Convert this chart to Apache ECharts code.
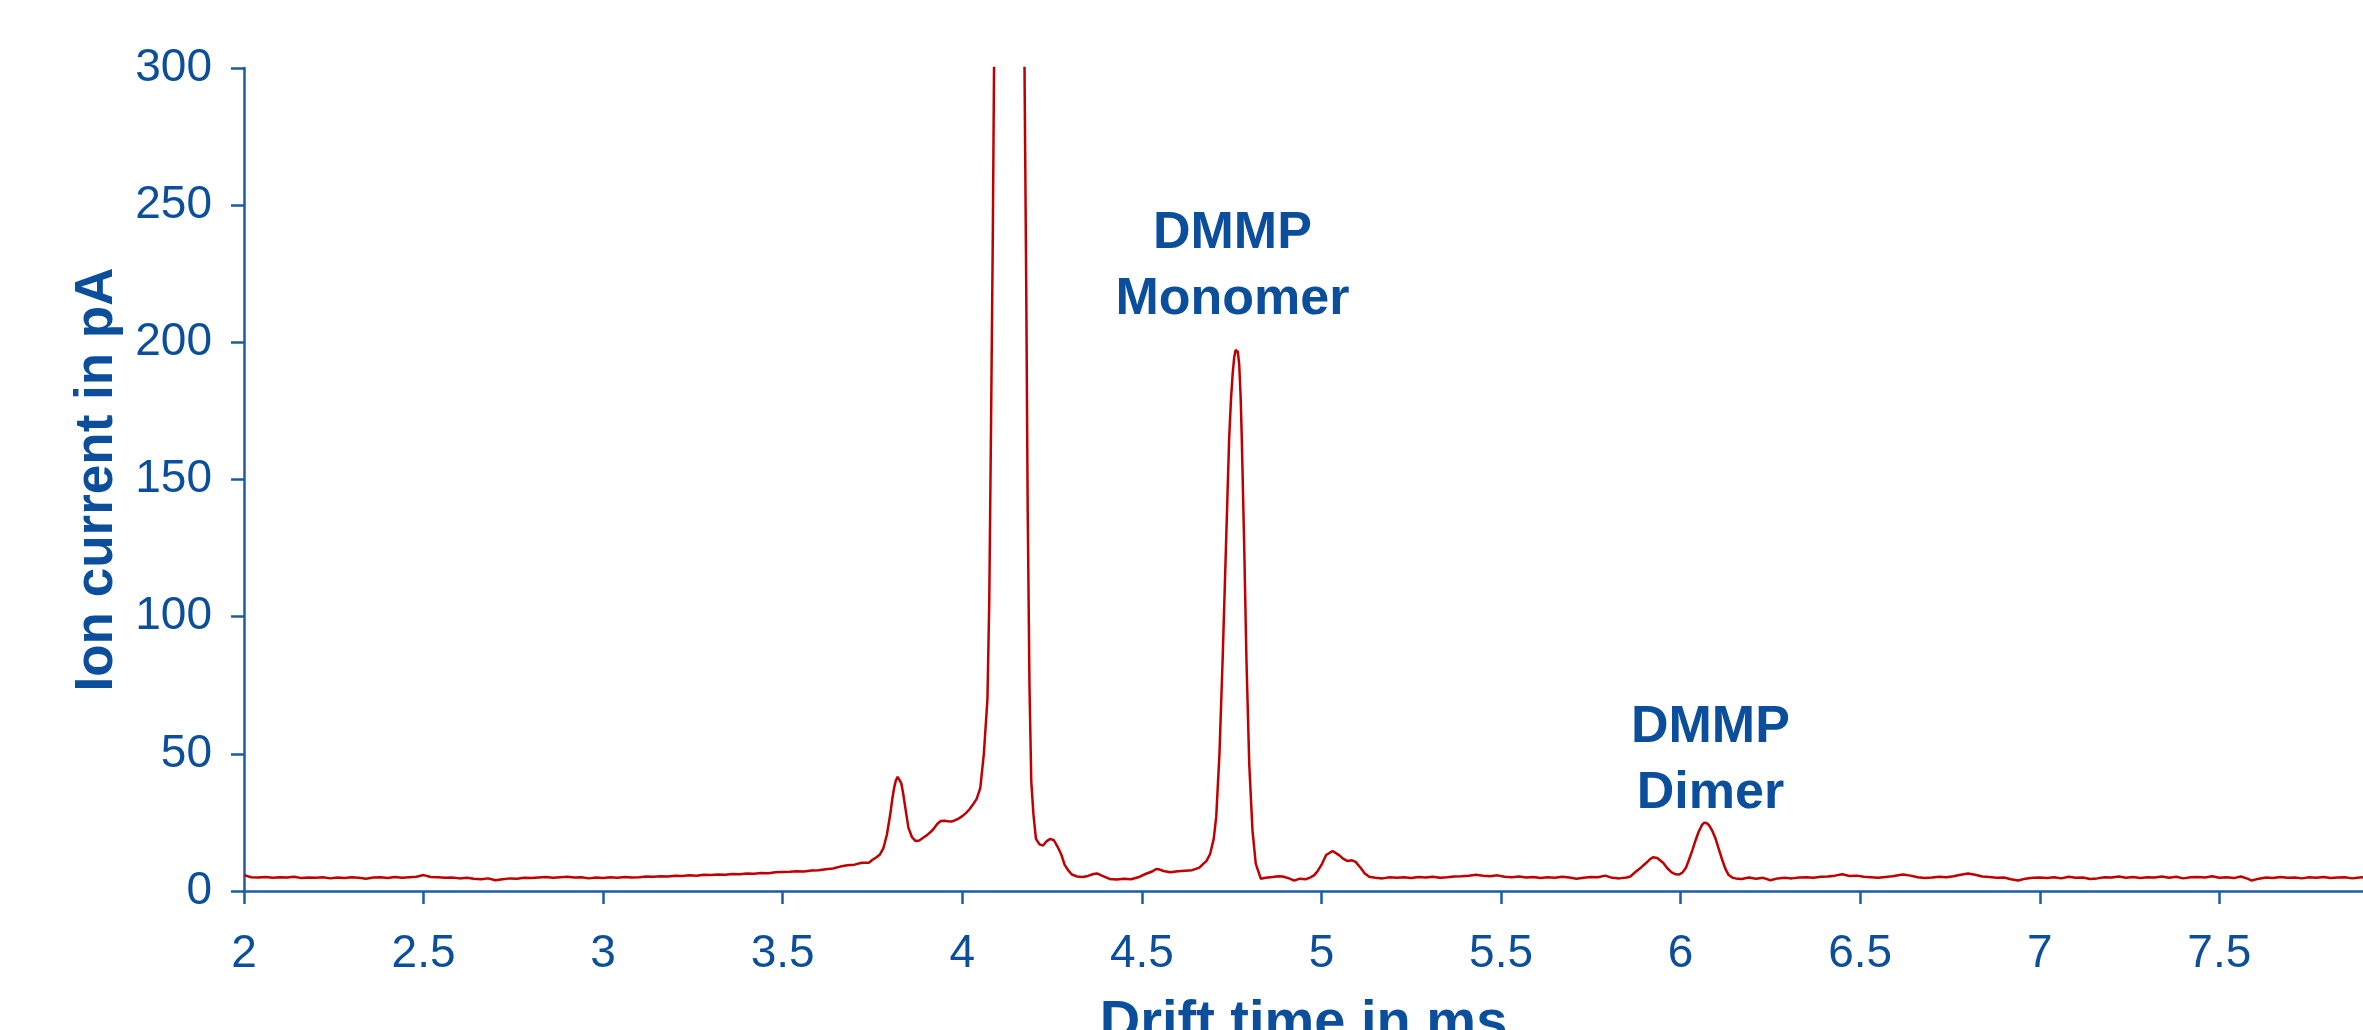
<!DOCTYPE html>
<html>
<head>
<meta charset="utf-8">
<script src="https://cdn.jsdelivr.net/npm/echarts@6/dist/echarts.min.js"></script>
<style>
html,body{margin:0;padding:0;background:#fff;overflow:hidden;}
#chart{width:2363px;height:1030px;}
</style>
</head>
<body>
<div id="chart"></div>
<script>
// ---- data: [drift time (ms), ion current (pA)] ----
const baselineLeft = [
[2.00,5.8],[2.02,5.0],[2.04,4.9],[2.06,5.1],[2.08,4.8],[2.10,5.0],[2.12,4.9],[2.14,5.2],[2.16,4.7],[2.18,4.9],
[2.20,4.8],[2.22,5.0],[2.24,4.6],[2.26,4.9],[2.28,4.7],[2.30,5.0],[2.32,4.8],[2.34,4.5],[2.36,4.9],[2.38,5.0],
[2.40,4.7],[2.42,5.1],[2.44,4.8],[2.46,5.0],[2.48,5.2],[2.50,5.8],[2.52,5.1],[2.54,5.0],[2.56,4.8],[2.58,4.9],
[2.60,4.6],[2.62,4.8],[2.64,4.5],[2.66,4.3],[2.68,4.6],[2.70,3.9],[2.72,4.3],[2.74,4.6],[2.76,4.5],[2.78,4.8],
[2.80,4.7],[2.82,4.9],[2.84,5.1],[2.86,4.8],[2.88,5.0],[2.90,5.2],[2.92,4.9],[2.94,5.0],[2.96,4.6],[2.98,4.9],
[3.00,4.7],[3.02,5.0],[3.04,4.8],[3.06,5.1],[3.08,4.9],[3.10,5.0],[3.12,5.3],[3.14,5.2],[3.16,5.4],[3.18,5.3],
[3.20,5.6],[3.22,5.5],[3.24,5.7],[3.26,5.6],[3.28,5.9],[3.30,5.8],[3.32,6.0],[3.34,5.9],[3.36,6.2],[3.38,6.1],
[3.40,6.4],[3.42,6.3],[3.44,6.6],[3.46,6.5],[3.48,6.8],[3.50,6.9],[3.52,7.0],[3.54,7.2],[3.56,7.1],[3.58,7.5],
[3.60,7.6],[3.62,7.9],[3.64,8.2],[3.66,8.9],[3.68,9.4],[3.70,9.6],[3.72,10.3],[3.74,10.3]
];
const reactantIonRegion = [
[3.75,11.4],[3.76,12.2],[3.77,13.2],[3.78,15.5],[3.79,20.5],[3.80,28.5],[3.805,33.5],[3.81,37.5],[3.815,40.3],
[3.82,41.6],[3.825,41.2],[3.83,39.3],[3.835,35.8],[3.84,31.5],[3.85,23.0],[3.86,19.6],[3.87,18.2],[3.88,18.4],
[3.89,19.3],[3.90,20.2],[3.91,21.3],[3.92,22.6],
[3.93,24.4],[3.94,25.5],[3.95,25.6],[3.96,25.4],[3.97,25.3],[3.98,25.8],[3.99,26.4],[4.00,27.3],[4.01,28.4],
[4.02,29.8],[4.03,31.6],[4.04,33.6],[4.05,37.5],[4.06,50],[4.07,70],[4.075,105],[4.08,170],[4.085,240],
[4.09,330],[4.10,700],[4.13,900],[4.16,700],[4.172,320],[4.178,220],[4.182,140],[4.187,75],[4.192,40],
[4.198,28],[4.205,19],[4.215,17],[4.225,16.6],[4.235,18.2],[4.245,19.0],[4.255,18.5],[4.265,16.2],[4.275,13.5],
[4.285,9.5],[4.295,7.5],[4.305,6.0],[4.32,5.3],[4.335,5.1],[4.35,5.5],[4.365,6.2],[4.375,6.4],[4.39,5.5],
[4.41,4.4],[4.43,4.2],[4.45,4.5],[4.47,4.3],[4.49,5.0],[4.51,6.2],[4.53,7.2],[4.54,8.0],[4.55,7.8],[4.56,7.3],
[4.58,6.8],[4.60,7.2],[4.62,7.4],[4.64,7.6],[4.66,8.5],[4.67,9.8],[4.68,11.0],[4.69,13.5],[4.70,19]
];
const monomerRegion = [
[4.707,27],[4.716,50],[4.725,85],[4.734,125],[4.743,165],[4.748,179],[4.753,189],[4.757,194.5],[4.761,197.2],
[4.764,197.6],[4.767,196.6],[4.771,192],[4.775,180],[4.778,166],
[4.785,125],[4.791,85],[4.799,46],[4.808,22],[4.817,10],[4.831,4.5],[4.845,4.8],[4.864,5.1],[4.88,5.4],
[4.892,5.3],[4.91,4.6],[4.924,3.8],[4.94,4.5],[4.957,4.3],[4.97,5.0],[4.98,5.8],[4.99,7.4],[5.00,9.5],
[5.013,13.1],[5.031,14.6],[5.05,13.0],[5.06,11.8],[5.073,10.9],[5.085,11.2],[5.095,10.6],[5.11,8.3],
[5.12,6.5],[5.133,5.2],[5.15,4.8],[5.17,4.6],[5.19,5.0],[5.21,4.8]
];
const baselineMiddle = [
[5.23,5.0],[5.25,4.7],[5.27,5.1],[5.29,4.9],[5.31,5.2],[5.33,4.8],[5.35,5.0],[5.37,5.3],[5.39,5.4],[5.41,5.6],
[5.43,5.9],[5.45,5.6],[5.47,5.4],[5.49,5.7],[5.51,5.2],[5.53,5.0],[5.55,5.3],[5.57,4.9],[5.59,5.1],[5.61,4.7],
[5.63,5.0],[5.65,4.8],[5.67,5.2],[5.69,4.9],[5.71,4.5],[5.73,4.8],[5.75,5.1],[5.77,5.0],[5.79,5.6],[5.81,4.8],
[5.83,4.6],[5.85,4.9],[5.86,5.3]
];
const dimerRegion = [
[5.875,7.0],[5.89,8.6],[5.903,10.1],[5.915,11.6],[5.923,12.3],[5.935,12.0],[5.94,11.7],[5.952,10.2],
[5.963,8.3],[5.975,6.8],[5.986,6.1],[5.995,6.0],[6.005,6.7],[6.015,8.5],[6.023,11.3],[6.033,15],[6.042,18.6],
[6.05,21.5],[6.06,24.2],[6.066,24.9],[6.072,24.8],[6.079,24.0],[6.088,22],[6.097,19.2],[6.107,15],[6.116,11.3],
[6.125,8.0],[6.134,5.8],[6.145,4.8],[6.153,4.6],[6.17,4.4],[6.19,4.9],[6.21,4.5],[6.23,4.8],[6.25,3.9],[6.27,4.6],
[6.29,4.8],[6.31,4.6]
];
const baselineRight = [
[6.33,4.9],[6.35,5.0],[6.37,4.8],[6.39,5.2],[6.41,5.3],[6.43,5.6],[6.45,6.1],[6.47,5.5],[6.49,5.6],[6.51,5.2],
[6.53,5.0],[6.55,4.8],[6.57,5.1],[6.59,5.4],[6.61,5.8],[6.62,6.0],[6.64,5.6],[6.66,5.0],[6.68,4.7],[6.70,4.9],
[6.72,5.2],[6.74,5.0],[6.76,5.4],[6.78,5.9],[6.80,6.4],[6.82,5.9],[6.84,5.3],[6.86,5.1],[6.88,4.8],[6.90,4.9],
[6.92,4.3],[6.94,3.8],[6.96,4.5],[6.98,4.8],[7.00,4.9],[7.02,4.7],[7.04,5.0],[7.06,4.6],[7.08,5.2],[7.10,4.8],
[7.12,4.9],[7.14,4.4],[7.16,4.6],[7.18,5.0],[7.20,4.9],[7.22,5.3],[7.24,4.8],[7.26,5.1],[7.28,4.7],[7.30,5.0],
[7.32,4.9],[7.34,5.3],[7.36,4.8],[7.38,5.2],[7.40,4.6],[7.42,5.0],[7.44,5.1],[7.46,4.9],[7.48,5.4],[7.50,4.8],
[7.52,5.0],[7.54,4.7],[7.56,5.3],[7.58,4.4],[7.59,3.8],[7.61,4.5],[7.63,4.9],[7.65,4.7],[7.67,5.1],[7.69,4.8],
[7.71,4.9],[7.73,4.6],[7.75,5.0],[7.77,4.8],[7.79,5.1],[7.81,4.7],[7.83,4.9],[7.85,5.0],[7.87,4.6],[7.89,4.9],
[7.90,5.0]
];
const annotations = [
  {text: 'DMMP\nMonomer', time: 4.752, current: 227.5},
  {text: 'DMMP\nDimer', time: 6.083, current: 47.6}
];
const xAxisTitle = 'Drift time in ms';
const yAxisTitle = 'Ion current in pA';

const spectrum = [].concat(baselineLeft, reactantIonRegion, monomerRegion, baselineMiddle, dimerRegion, baselineRight);

const TEXT = '#0B4F9C';
const AXIS = '#1C5CA6';
const FONT = '"Liberation Sans", Arial, sans-serif';

const chart = echarts.init(document.getElementById('chart'), null, {renderer: 'canvas'});
chart.setOption({
  animation: false,
  backgroundColor: '#ffffff',
  grid: {left: 244, right: 0, top: 68, bottom: 139, containLabel: false, outerBoundsMode: 'none'},
  xAxis: {
    type: 'value', min: 2, max: 7.9, interval: 0.5,
    name: xAxisTitle, nameLocation: 'middle', nameGap: 105,
    nameTextStyle: {color: TEXT, fontSize: 56, fontWeight: 'bold', fontFamily: FONT},
    axisLine: {show: true, onZero: false, lineStyle: {color: AXIS, width: 2.5}},
    axisTick: {show: true, length: 13, lineStyle: {color: AXIS, width: 2.5}},
    axisLabel: {color: TEXT, fontSize: 46, fontFamily: FONT, margin: 40, showMaxLabel: false},
    splitLine: {show: false}
  },
  yAxis: {
    type: 'value', min: 0, max: 300, interval: 50,
    name: yAxisTitle, nameLocation: 'middle', nameGap: 111, nameRotate: 90,
    nameTextStyle: {color: TEXT, fontSize: 53, fontWeight: 'bold', fontFamily: FONT},
    axisLine: {show: true, lineStyle: {color: AXIS, width: 2.5}},
    axisTick: {show: true, length: 13, lineStyle: {color: AXIS, width: 2.5}},
    axisLabel: {color: TEXT, fontSize: 46, fontFamily: FONT, margin: 32},
    splitLine: {show: false}
  },
  series: [{
    type: 'line',
    data: spectrum,
    showSymbol: false,
    symbol: 'none',
    clip: true,
    lineStyle: {color: '#C00000', width: 2.5},
    markPoint: {
      symbol: 'circle', symbolSize: 1,
      itemStyle: {color: 'rgba(0,0,0,0)'},
      label: {
        show: true, position: 'inside', color: TEXT,
        fontSize: 52, fontWeight: 'bold', fontFamily: FONT, lineHeight: 66, align: 'center'
      },
      data: annotations.map(a => ({coord: [a.time, a.current], label: {formatter: a.text}}))
    }
  }]
});
</script>
</body>
</html>
